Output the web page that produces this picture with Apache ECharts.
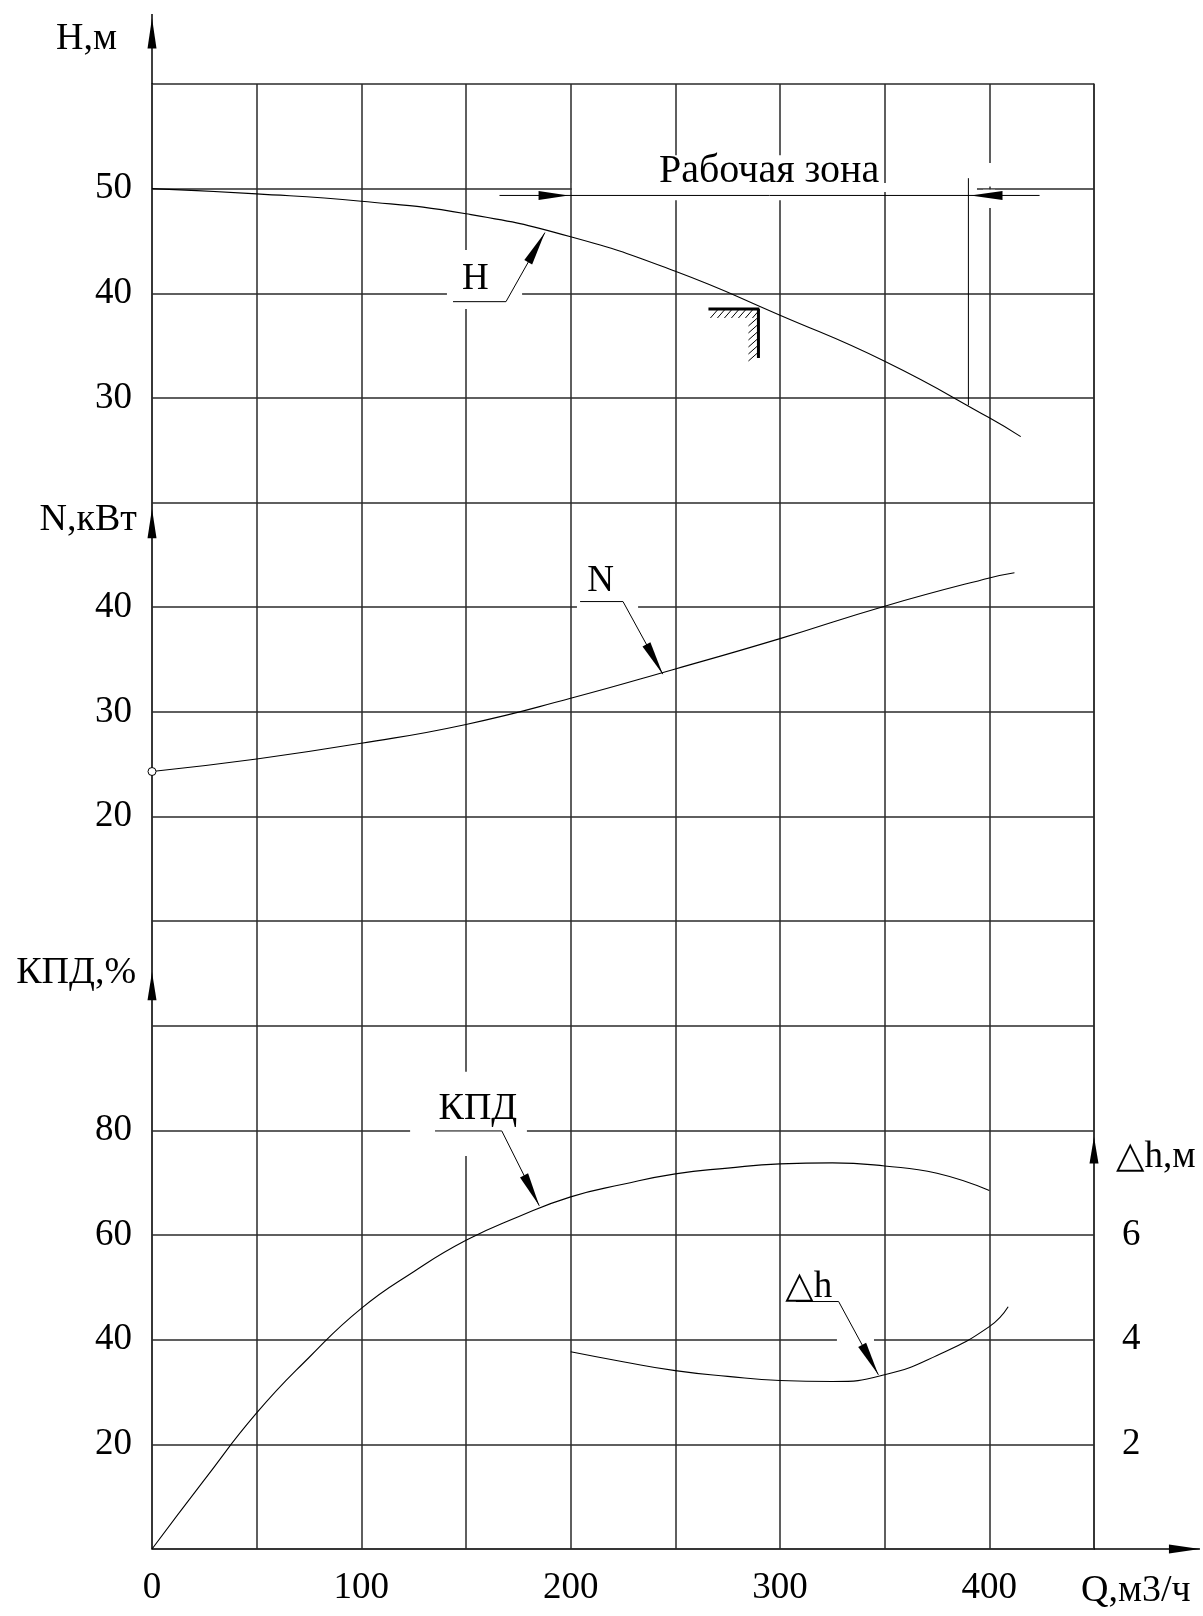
<!DOCTYPE html>
<html>
<head>
<meta charset="utf-8">
<script src="https://cdn.jsdelivr.net/npm/echarts@6/dist/echarts.min.js"></script>
<style>
html,body{margin:0;padding:0;background:#fff;}
#c{width:1203px;height:1616px;}
</style>
</head>
<body>
<div id="c"></div>
<script>
// ---------------- data ----------------
const qTicks   = [0, 100, 200, 300, 400];
const hTicks   = [30, 40, 50];
const nTicks   = [20, 30, 40];
const kpdTicks = [20, 40, 60, 80];
const dhTicks  = [2, 4, 6];

// H(Q), m
const hQ   = [0, 50, 100, 150, 200, 250, 300, 350, 400, 415];
const hVal = [50, 49.5, 48.8, 47.6, 45.4, 42.1, 37.9, 33.5, 28.1, 26.3];

// N(Q), kW
const nQ   = [0, 50, 100, 150, 200, 250, 300, 350, 400, 412];
const nVal = [24.3, 25.5, 27.0, 28.8, 31.3, 34.1, 37.0, 40.1, 42.8, 43.3];

// КПД(Q), %
const kpdQ   = [0, 25, 50, 75, 100, 125, 150, 175, 200, 225, 250, 275, 300, 325, 350, 375, 400];
const kpdVal = [0, 13.2, 26, 36.6, 46, 53, 59, 63.5, 67.3, 69.7, 71.7, 72.8, 73.6, 73.8, 73.2, 71.8, 68.5];

// Δh(Q), m
const dhQ   = [200, 225, 250, 275, 300, 325, 350, 375, 400, 409];
const dhVal = [3.77, 3.58, 3.41, 3.30, 3.22, 3.2, 3.33, 3.7, 4.25, 4.63];

// working zone and nominal point
const zoneQ = [200, 390];
const nominal = [289.7, 38.5];

// ---------------- styling ----------------
const FONT = "'Liberation Serif','Times New Roman','DejaVu Sans',serif";
const GRID_COLOR = '#2a2a2a';
const CURVE = '#000';
const SMOOTH = 0.5;

const pairs = (xs, ys) => xs.map((x, i) => [x, ys[i]]);
const only = list => v => list.some(t => Math.abs(t - v) < 1e-6) ? String(Math.round(v)) : '';

const yBase = {
  type: 'value', position: 'left', offset: 0,
  axisTick: {show: false}, splitLine: {show: false}, axisLine: {show: false, onZero: false},
  axisLabel: {color: '#000', fontFamily: FONT, fontSize: 37, margin: 20}
};

const chart = echarts.init(document.getElementById('c'), null, {renderer: 'canvas'});

const option = {
  animation: false,
  backgroundColor: '#fff',
  grid: {left: 152, right: 109, top: 84, bottom: 67, containLabel: false, outerBoundsMode: 'none'},
  xAxis: {
    type: 'value', min: 0, max: 450, interval: 50,
    axisLine: {show: true, onZero: false, lineStyle: {color: GRID_COLOR, width: 1.5}},
    axisTick: {show: false},
    splitLine: {show: true, lineStyle: {color: GRID_COLOR, width: 1.5}},
    axisLabel: {color: '#000', fontFamily: FONT, fontSize: 37, margin: 21, formatter: only(qTicks)}
  },
  yAxis: [
    Object.assign({}, yBase, { // 0: КПД
      min: 0, max: 280, interval: 20,
      axisLine: {show: true, onZero: false, lineStyle: {color: GRID_COLOR, width: 1.5}},
      splitLine: {show: true, lineStyle: {color: GRID_COLOR, width: 1.5}},
      axisLabel: Object.assign({}, yBase.axisLabel, {formatter: only(kpdTicks)})
    }),
    Object.assign({}, yBase, { // 1: H
      min: -80, max: 60, interval: 10,
      axisLabel: Object.assign({}, yBase.axisLabel, {formatter: only(hTicks)})
    }),
    Object.assign({}, yBase, { // 2: N
      min: -50, max: 90, interval: 10,
      axisLabel: Object.assign({}, yBase.axisLabel, {formatter: only(nTicks)})
    }),
    Object.assign({}, yBase, { // 3: Δh
      position: 'right', min: 0, max: 28, interval: 2,
      axisLine: {show: true, onZero: false, lineStyle: {color: GRID_COLOR, width: 1.5}},
      axisLabel: Object.assign({}, yBase.axisLabel, {margin: 28, formatter: only(dhTicks)})
    })
  ],
  series: [
    {name: 'H', type: 'line', yAxisIndex: 1, data: pairs(hQ, hVal), smooth: SMOOTH,
     symbol: 'none', silent: true, lineStyle: {color: CURVE, width: 1.1}},
    {name: 'N', type: 'line', yAxisIndex: 2, smooth: SMOOTH, symbol: 'none',
     showSymbol: true, showAllSymbol: true, silent: true, lineStyle: {color: CURVE, width: 1.1},
     itemStyle: {color: '#fff', borderColor: '#000', borderWidth: 1},
     data: pairs(nQ, nVal).map((p, i) => i === 0 ? {value: p, symbol: 'circle', symbolSize: 8} : {value: p})},
    {name: 'КПД', type: 'line', yAxisIndex: 0, data: pairs(kpdQ, kpdVal), smooth: SMOOTH,
     symbol: 'none', silent: true, lineStyle: {color: CURVE, width: 1.1}},
    {name: 'Δh', type: 'line', yAxisIndex: 3, data: pairs(dhQ, dhVal), smooth: SMOOTH,
     symbol: 'none', silent: true, lineStyle: {color: CURVE, width: 1.1}}
  ]
};
chart.setOption(option);

// ---------------- annotations (anchored in data units) ----------------
const Y = {kpd: 0, h: 1, n: 2, dh: 3};
const P = (q, v, yi) => chart.convertToPixel({xAxisIndex: 0, yAxisIndex: yi}, [q, v]);
const g = [];
const line = (a, b, w = 1, z = 20) => g.push({type: 'line', z, silent: true,
  shape: {x1: a[0], y1: a[1], x2: b[0], y2: b[1]}, style: {stroke: '#000', lineWidth: w}});
const arrow = (from, tip, L, W) => {
  const dx = tip[0] - from[0], dy = tip[1] - from[1], len = Math.hypot(dx, dy);
  const ux = dx / len, uy = dy / len, bx = tip[0] - ux * L, by = tip[1] - uy * L;
  const nx = -uy * W / 2, ny = ux * W / 2;
  g.push({type: 'polygon', z: 21, silent: true,
    shape: {points: [tip, [bx + nx, by + ny], [bx - nx, by - ny]]}, style: {fill: '#000'}});
};
const rect = (a, b) => g.push({type: 'rect', z: 10, silent: true,
  shape: {x: Math.min(a[0], b[0]), y: Math.min(a[1], b[1]), width: Math.abs(b[0] - a[0]), height: Math.abs(b[1] - a[1])},
  style: {fill: '#fff'}});
const text = (s, p, align, size) => g.push({type: 'text', z: 22, silent: true, x: p[0], y: p[1],
  style: {text: s, font: size + 'px ' + FONT, fill: '#000', align: align, verticalAlign: 'middle',
          textAlign: align, textVerticalAlign: 'middle'}});

// white clearings behind labels
rect(P(240.3, 53.2, Y.h), P(348.7, 48.9, Y.h));
rect(P(200.6, 50.54, Y.h), P(394.1, 49.68, Y.h));
rect(P(397, 52.45, Y.h), P(402.7, 50.2, Y.h));
rect(P(397, 49.9, Y.h), P(402.7, 48.15, Y.h));
rect(P(140.9, 44.14, Y.h), P(176.8, 38.5, Y.h));
rect(P(203, 40.4, Y.n), P(232.2, 39.62, Y.n));
rect(P(123.3, 91.2, Y.kpd), P(179.1, 75.1, Y.kpd));
rect(P(327.2, 4.02, Y.dh), P(344.9, 3.87, Y.dh));

// left axis extension and arrows
line(P(0, 66.7, Y.h), P(0, 60, Y.h), 1.5);
arrow(P(0, 63.4, Y.h), P(0, 66.3, Y.h), P(0, 63.4, Y.h)[1] - P(0, 66.3, Y.h)[1], 9);
arrow(P(0, 46.6, Y.n), P(0, 49.4, Y.n), P(0, 46.6, Y.n)[1] - P(0, 49.4, Y.n)[1], 9);
arrow(P(0, 104.9, Y.kpd), P(0, 110.3, Y.kpd), P(0, 104.9, Y.kpd)[1] - P(0, 110.3, Y.kpd)[1], 9);
arrow(P(450, 7.37, Y.dh), P(450, 7.88, Y.dh), P(450, 7.37, Y.dh)[1] - P(450, 7.88, Y.dh)[1], 9);
line(P(450, 0, Y.kpd), P(500.6, 0, Y.kpd), 1.5);
arrow(P(485.8, 0, Y.kpd), P(500.6, 0, Y.kpd), P(500.6, 0, Y.kpd)[0] - P(485.8, 0, Y.kpd)[0], 9);

// axis titles
text('H,м', P(-16.7, 64.3, Y.h), 'right', 38);
text('N,кВт', P(-7.2, 48.3, Y.n), 'right', 38);
text('КПД,%', P(-7.6, 110, Y.kpd), 'right', 38);
text('△h,м', P(460.5, 7.49, Y.dh), 'left', 37);
text('Q,м3/ч', P(443.8, -8.0, Y.kpd), 'left', 38);

// working zone dimension
line(P(166, 49.35, Y.h), P(424, 49.35, Y.h), 1);
arrow(P(180, 49.35, Y.h), P(zoneQ[0] - 1, 49.35, Y.h), 30, 9);
arrow(P(410, 49.35, Y.h), P(zoneQ[1] + 1, 49.35, Y.h), 32, 9);
line(P(zoneQ[1], 51.0, Y.h), P(zoneQ[1], 29.3, Y.h), 1);
text('Рабочая зона', P(294.8, 51.6, Y.h), 'center', 40);

// nominal-point hatch mark
(function () {
  const c = P(nominal[0], nominal[1], Y.h), cx = c[0], cy = c[1];
  line([cx - 50, cy], [cx + 1, cy], 3);
  line([cx, cy], [cx, cy + 49], 3);
  for (let i = 0; i < 7; i++) { const x = cx - 48 + i * 7; line([x, cy + 9], [x + 7, cy + 1], 1); }
  for (let j = 0; j < 6; j++) { const y = cy + 9 + j * 7; line([cx - 10, y + 8], [cx - 1, y], 1); }
})();

// curve labels with leaders
text('H', P(154.5, 41.3, Y.h), 'center', 37);
line(P(143.8, 39.2, Y.h), P(169.1, 39.2, Y.h), 1);
line(P(169.1, 39.2, Y.h), P(187.7, 45.8, Y.h), 1);
arrow(P(169.1, 39.2, Y.h), P(187.7, 45.8, Y.h), 34, 9);

text('N', P(214.3, 42.45, Y.n), 'center', 37);
line(P(204.5, 40.54, Y.n), P(225, 40.54, Y.n), 1);
line(P(225, 40.54, Y.n), P(244, 33.6, Y.n), 1);
arrow(P(225, 40.54, Y.n), P(244, 33.6, Y.n), 34, 9);

text('КПД', P(155.7, 84.1, Y.kpd), 'center', 38);
line(P(135.2, 79.9, Y.kpd), P(167.1, 79.9, Y.kpd), 1);
line(P(167.1, 79.9, Y.kpd), P(185, 65.6, Y.kpd), 1);
arrow(P(167.1, 79.9, Y.kpd), P(185, 65.6, Y.kpd), 34, 9);

text('△h', P(313.7, 5.0, Y.dh), 'center', 37);
line(P(307.6, 4.73, Y.dh), P(328, 4.73, Y.dh), 1);
line(P(328, 4.73, Y.dh), P(347, 3.33, Y.dh), 1);
arrow(P(328, 4.73, Y.dh), P(347, 3.33, Y.dh), 34, 9);

chart.setOption({graphic: {elements: g}});
</script>
</body>
</html>
